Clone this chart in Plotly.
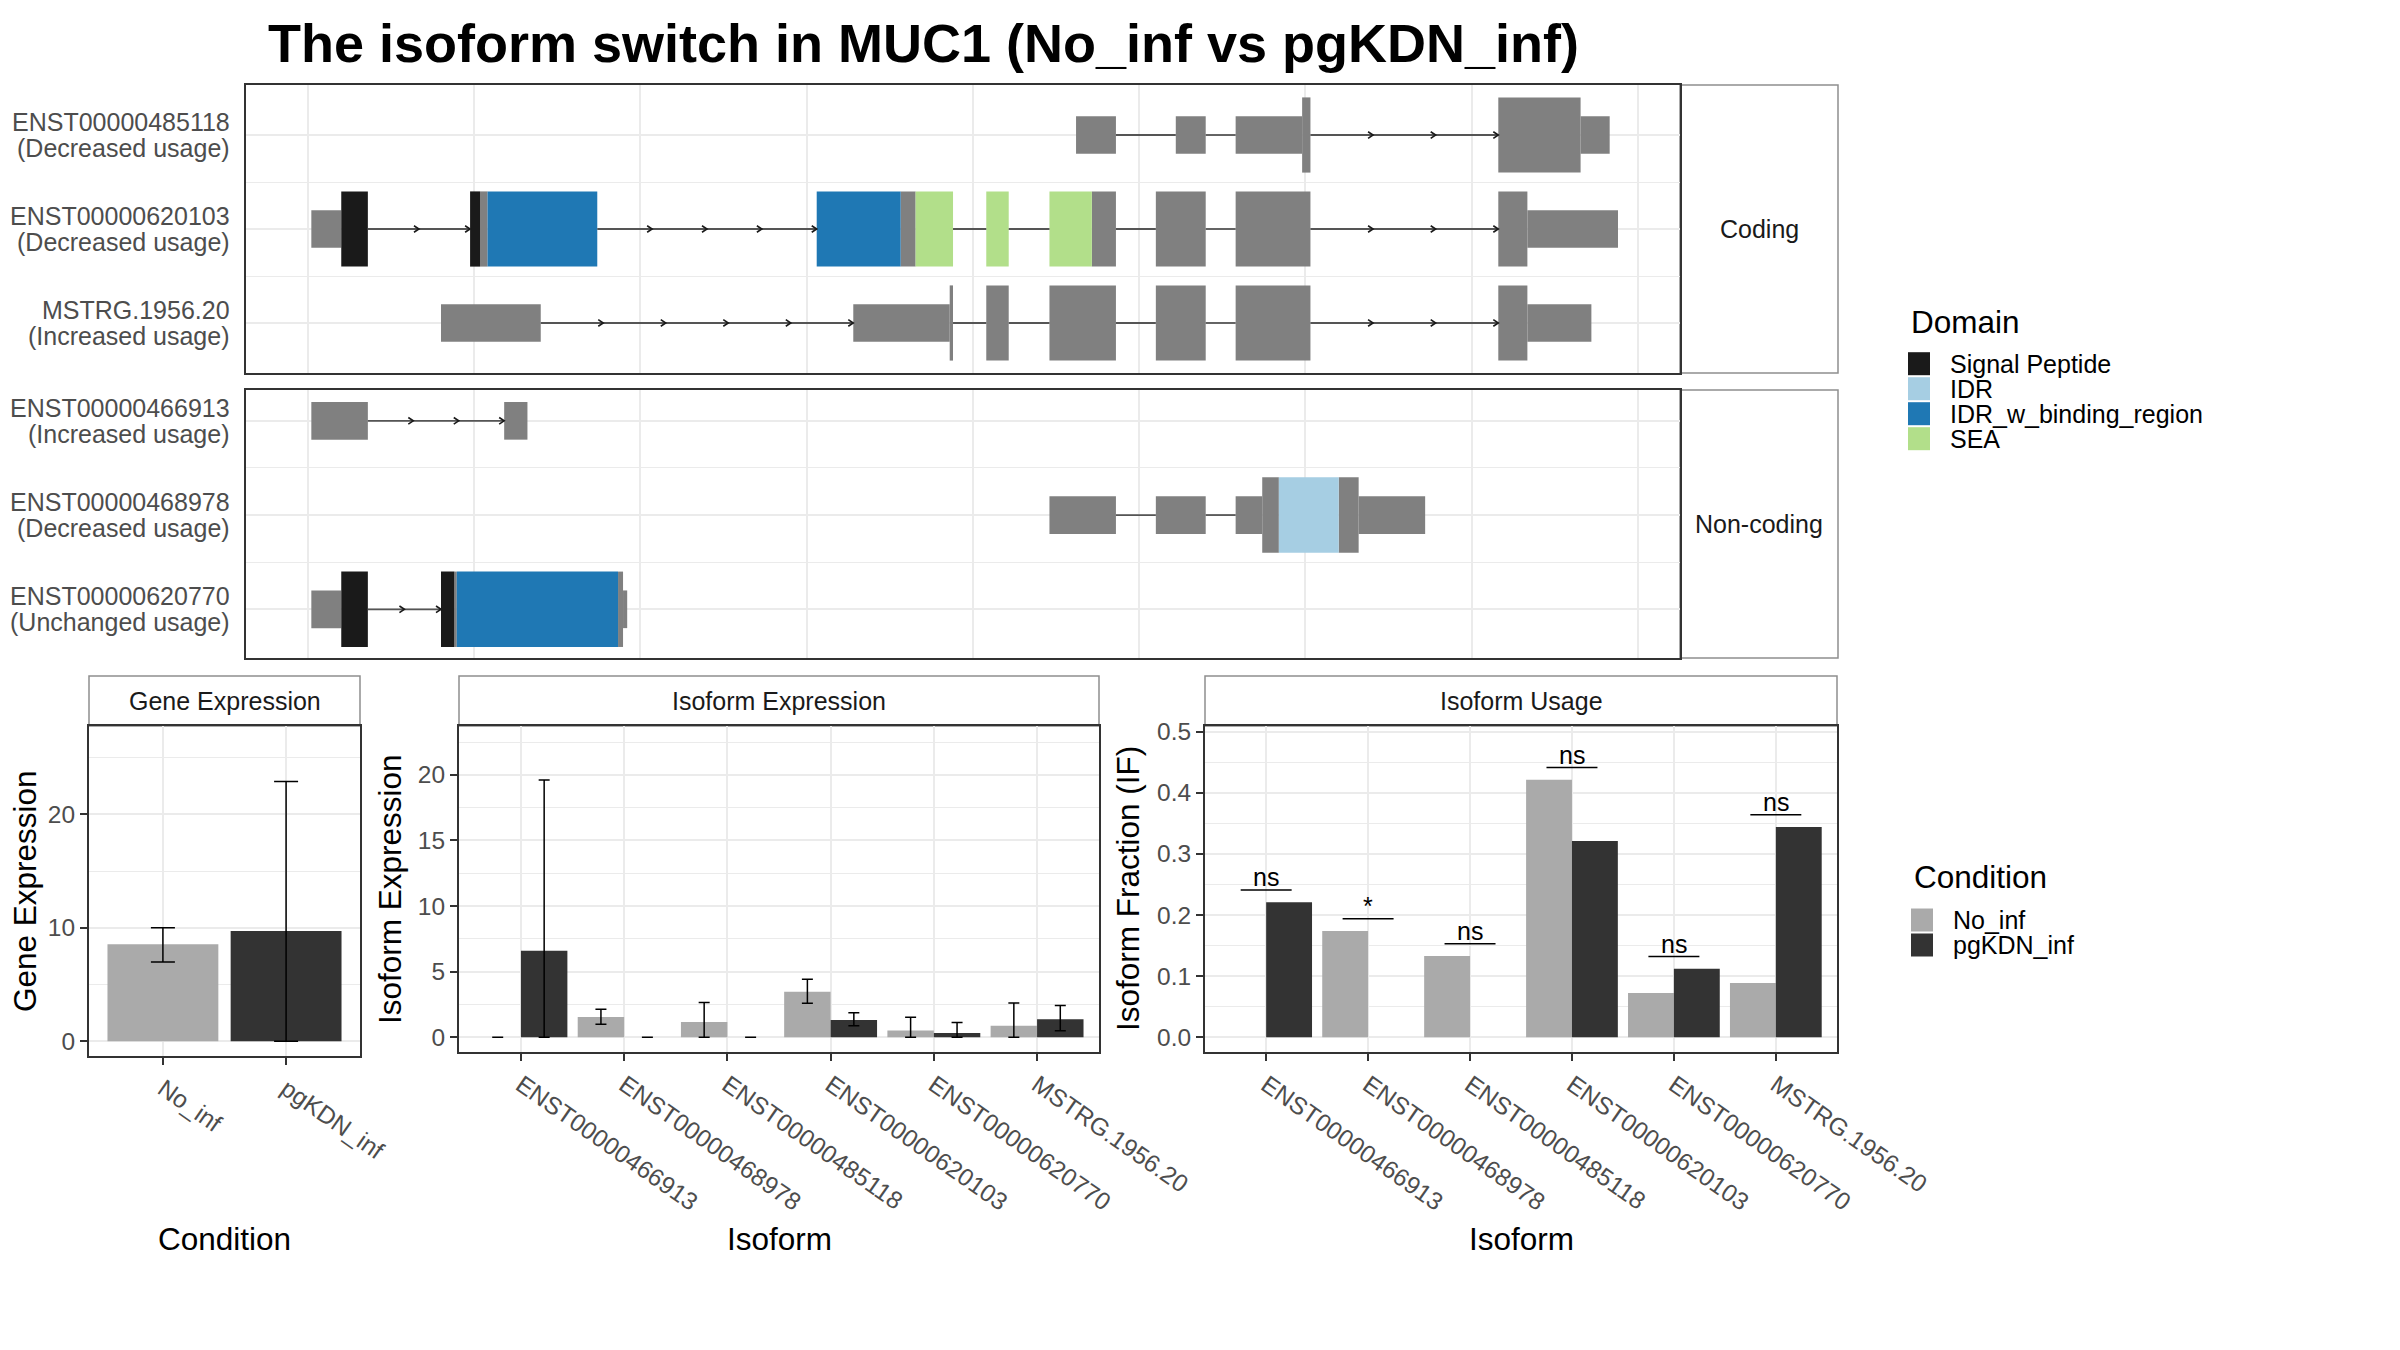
import plotly.graph_objects as go

W, H = 2400, 1350
OFF = 8  # page body margin of the rendered html

# ---------------------------------------------------------------- data
coding_ids = ["ENST00000485118", "ENST00000620103", "MSTRG.1956.20"]
coding_usage = ["(Decreased usage)", "(Decreased usage)", "(Increased usage)"]
noncoding_ids = ["ENST00000466913", "ENST00000468978", "ENST00000620770"]
noncoding_usage = ["(Increased usage)", "(Decreased usage)", "(Unchanged usage)"]

# exon segments (start, end, feature) in rescaled transcript coordinates
seg_485118 = [(462, 486, "UTR"), (522, 540, "UTR"), (558, 598, "UTR"), (598, 603, "CDS"),
              (716, 765.5, "CDS"), (765.5, 783, "UTR")]
seg_620103 = [(2, 20, "UTR"), (20, 36, "Signal Peptide"),
              (97.5, 103.5, "Signal Peptide"), (103.5, 108, "CDS"), (108, 174, "IDR_w_binding_region"),
              (306, 356.5, "IDR_w_binding_region"), (356.5, 365.5, "CDS"), (365.5, 388, "SEA"),
              (408, 421.5, "SEA"),
              (446, 471.5, "SEA"), (471.5, 486, "CDS"),
              (510, 540, "CDS"), (558, 603, "CDS"),
              (716, 733.5, "CDS"), (733.5, 788, "UTR")]
seg_MSTRG = [(80, 140, "UTR"), (328, 386, "UTR"), (386, 388, "CDS"), (408, 421.5, "CDS"),
             (446, 486, "CDS"), (510, 540, "CDS"), (558, 603, "CDS"),
             (716, 733.5, "CDS"), (733.5, 772, "UTR")]
seg_466913 = [(2, 36, "UTR"), (118, 132, "UTR")]
seg_468978 = [(446, 486, "UTR"), (510, 540, "UTR"), (558, 574, "UTR"), (574, 584, "CDS"),
              (584, 620, "IDR"), (620, 632, "CDS"), (632, 672, "UTR")]
seg_620770 = [(2, 20, "UTR"), (20, 36, "Signal Peptide"), (80, 88, "Signal Peptide"),
              (88, 89.5, "CDS"), (89.5, 186.5, "IDR_w_binding_region"), (186.5, 189.5, "CDS"),
              (189.5, 192, "UTR")]

# number of direction arrows drawn on each intron
arr_485118 = [0, 0, 3]
arr_620103 = [2, 4, 0, 0, 0, 0, 3]
arr_MSTRG = [5, 0, 0, 0, 0, 3]
arr_466913 = [3]
arr_468978 = [0, 0]
arr_620770 = [2]

coding_segs = [seg_485118, seg_620103, seg_MSTRG]
coding_arrows = [arr_485118, arr_620103, arr_MSTRG]
noncoding_segs = [seg_466913, seg_468978, seg_620770]
noncoding_arrows = [arr_466913, arr_468978, arr_620770]

domain_names = ["Signal Peptide", "IDR", "IDR_w_binding_region", "SEA"]
domain_colors = ["#1A1A1A", "#A6CEE3", "#1F78B4", "#B2DF8A"]
exon_grey = "#808080"

conditions = ["No_inf", "pgKDN_inf"]
condition_colors = ["#AAAAAA", "#333333"]

gene_expr = [8.55, 9.73]
gene_lo = [7.0, 0.0]
gene_hi = [10.0, 22.9]

isoforms = ["ENST00000466913", "ENST00000468978", "ENST00000485118",
            "ENST00000620103", "ENST00000620770", "MSTRG.1956.20"]
iso_no = [0.0, 1.55, 1.17, 3.47, 0.52, 0.88]
iso_no_lo = [0.0, 0.99, 0.0, 2.60, 0.0, 0.0]
iso_no_hi = [0.0, 2.13, 2.65, 4.43, 1.52, 2.62]
iso_pg = [6.60, 0.0, 0.0, 1.31, 0.32, 1.37]
iso_pg_lo = [0.0, 0.0, 0.0, 0.88, 0.0, 0.50]
iso_pg_hi = [19.6, 0.0, 0.0, 1.87, 1.13, 2.42]

if_no = [0.0, 0.174, 0.133, 0.421, 0.0725, 0.089]
if_pg = [0.221, 0.0, 0.0, 0.321, 0.112, 0.344]
sig_labels = ["ns", "*", "ns", "ns", "ns", "ns"]

# ---------------------------------------------------------------- style
FONT = "Liberation Sans, Arial, Helvetica, sans-serif"
GRID = "#EBEBEB"
BORDER = "#333333"
TXT_GREY = "#4D4D4D"


def px_x(p):
    return (p - OFF) / W


def px_y(p):
    return 1 - (p - OFF) / H


# panel boxes in pixels (left, right, top, bottom)
P_COD = (246, 1680, 85, 373)
P_NON = (246, 1680, 390, 658)
P_GENE = (89, 360, 726, 1056)
P_ISO = (459, 1099, 726, 1052)
P_USE = (1205, 1837, 726, 1052)
STRIP_RIGHT = 1838
STRIP_TOP = 676

fig = go.Figure()

feature_color = {"UTR": exon_grey, "CDS": exon_grey}
feature_color.update(dict(zip(domain_names, domain_colors)))


def add_transcripts(segs_list, arrows_list, xa, ya):
    feats = ["UTR", "CDS"] + domain_names
    for f in feats:
        ys, lens, bases, widths = [], [], [], []
        for r, segs in enumerate(segs_list):
            for (s, e, ft) in segs:
                if ft == f:
                    ys.append(r + 1)
                    lens.append(e - s)
                    bases.append(s)
                    widths.append(0.4 if f == "UTR" else 0.8)
        if ys:
            fig.add_trace(go.Bar(orientation="h", y=ys, x=lens, base=bases, width=widths,
                                 marker=dict(color=feature_color[f], line=dict(width=0)),
                                 xaxis=xa, yaxis=ya, showlegend=False, hoverinfo="skip"))
    lx, ly, cx, cy = [], [], [], []
    for r, (segs, arrs) in enumerate(zip(segs_list, arrows_list)):
        row = r + 1
        introns = [(segs[k][1], segs[k + 1][0]) for k in range(len(segs) - 1)
                   if segs[k][1] < segs[k + 1][0]]
        for (a, b), n in zip(introns, arrs):
            lx += [a, b, None]
            ly += [row, row, None]
            for m in range(1, n + 1):
                xm = a + m * (b - a) / n
                cx += [xm - 3, xm, xm - 3, None]
                cy += [row - 0.035, row, row + 0.035, None]
    fig.add_trace(go.Scatter(x=lx, y=ly, mode="lines", line=dict(color="#555555", width=1.8),
                             xaxis=xa, yaxis=ya, showlegend=False, hoverinfo="skip"))
    fig.add_trace(go.Scatter(x=cx, y=cy, mode="lines", line=dict(color="#1A1A1A", width=1.6),
                             xaxis=xa, yaxis=ya, showlegend=False, hoverinfo="skip"))


add_transcripts(coding_segs, coding_arrows, "x", "y")
add_transcripts(noncoding_segs, noncoding_arrows, "x2", "y2")

# ---------------- gene expression
fig.add_trace(go.Bar(x=list(range(len(conditions))), y=gene_expr, width=0.9,
                     marker=dict(color=condition_colors, line=dict(width=0)),
                     error_y=dict(type="data", symmetric=False,
                                  array=[h - v for h, v in zip(gene_hi, gene_expr)],
                                  arrayminus=[v - l for v, l in zip(gene_expr, gene_lo)],
                                  color="black", thickness=1.5, width=12),
                     xaxis="x3", yaxis="y3", showlegend=False, hoverinfo="skip"))

# ---------------- isoform expression
idx = list(range(len(isoforms)))
for vals, lo, hi, col, off in [(iso_no, iso_no_lo, iso_no_hi, condition_colors[0], -0.45),
                               (iso_pg, iso_pg_lo, iso_pg_hi, condition_colors[1], 0.0)]:
    fig.add_trace(go.Bar(x=idx, y=vals, width=0.45, offset=off,
                         marker=dict(color=col, line=dict(width=0)),
                         error_y=dict(type="data", symmetric=False,
                                      array=[h - v for h, v in zip(hi, vals)],
                                      arrayminus=[v - l for v, l in zip(vals, lo)],
                                      color="black", thickness=1.5, width=5.5),
                         xaxis="x4", yaxis="y4", showlegend=False, hoverinfo="skip"))

# ---------------- isoform usage
for vals, col, off in [(if_no, condition_colors[0], -0.45), (if_pg, condition_colors[1], 0.0)]:
    fig.add_trace(go.Bar(x=idx, y=vals, width=0.45, offset=off,
                         marker=dict(color=col, line=dict(width=0)),
                         xaxis="x5", yaxis="y5", showlegend=False, hoverinfo="skip"))

sig_y = [max(a, b) + 0.02 for a, b in zip(if_no, if_pg)]
sx, sy = [], []
for i, yv in zip(idx, sig_y):
    sx += [i - 0.25, i + 0.25, None]
    sy += [yv, yv, None]
fig.add_trace(go.Scatter(x=sx, y=sy, mode="lines", line=dict(color="black", width=1.5),
                         xaxis="x5", yaxis="y5", showlegend=False, hoverinfo="skip"))

annotations = []
for i, yv, lab in zip(idx, sig_y, sig_labels):
    annotations.append(dict(x=i, y=yv, xref="x5", yref="y5", text=lab, showarrow=False,
                            yanchor="bottom", xanchor="center", yshift=-3,
                            font=dict(size=25, color="black", family=FONT)))

# ---------------------------------------------------------------- axes
def dom_x(p):
    return [px_x(p[0]), px_x(p[1])]


def dom_y(p):
    return [px_y(p[3]), px_y(p[2])]


line_style = dict(showline=True, mirror=True, linecolor=BORDER, linewidth=2, zeroline=False,
                  automargin=False)

tx_x = dict(range=[-37.3, 825.3], tick0=0, dtick=100, showticklabels=False, ticks="",
            showgrid=True, gridcolor=GRID, gridwidth=2, **line_style)
tx_yminor = dict(tickmode="array", tickvals=[1.5, 2.5], showgrid=True, gridcolor=GRID,
                 gridwidth=1.4, ticks="")

bar_x = dict(tickangle=35, ticks="outside", ticklen=7, tickwidth=2, tickcolor=BORDER,
             showgrid=True, gridcolor=GRID, gridwidth=2.4,
             tickfont=dict(size=24.5, color=TXT_GREY, family=FONT), **line_style)
bar_y = dict(ticks="outside", ticklen=7, tickwidth=2, tickcolor=BORDER,
             showgrid=True, gridcolor=GRID, gridwidth=2.4,
             tickfont=dict(size=24.5, color=TXT_GREY, family=FONT), **line_style)

fig.update_layout(
    xaxis=dict(domain=dom_x(P_COD), anchor="y", **tx_x),
    yaxis=dict(domain=dom_y(P_COD), anchor="x", range=[3.532, 0.468], tickvals=[1, 2, 3],
               showticklabels=False, ticks="", showgrid=True, gridcolor=GRID, gridwidth=2.4,
               minor=tx_yminor, **line_style),
    xaxis2=dict(domain=dom_x(P_NON), anchor="y2", **tx_x),
    yaxis2=dict(domain=dom_y(P_NON), anchor="x2", range=[3.517, 0.673], tickvals=[1, 2, 3],
                showticklabels=False, ticks="", showgrid=True, gridcolor=GRID, gridwidth=2.4,
                minor=tx_yminor, **line_style),
    xaxis3=dict(domain=dom_x(P_GENE), anchor="y3", range=[-0.6, 1.6],
                tickvals=list(range(len(conditions))), ticktext=conditions, **bar_x),
    yaxis3=dict(domain=dom_y(P_GENE), anchor="x3", range=[-1.3, 27.8], tick0=0, dtick=10,
                minor=dict(tick0=0, dtick=5, showgrid=True, gridcolor=GRID, gridwidth=1.4, ticks=""),
                **bar_y),
    xaxis4=dict(domain=dom_x(P_ISO), anchor="y4", range=[-0.6, 5.6],
                tickvals=idx, ticktext=isoforms, **bar_x),
    yaxis4=dict(domain=dom_y(P_ISO), anchor="x4", range=[-1.12, 23.72], tick0=0, dtick=5,
                minor=dict(tick0=0, dtick=2.5, showgrid=True, gridcolor=GRID, gridwidth=1.4, ticks=""),
                **bar_y),
    xaxis5=dict(domain=dom_x(P_USE), anchor="y5", range=[-0.6, 5.6],
                tickvals=idx, ticktext=isoforms, **bar_x),
    yaxis5=dict(domain=dom_y(P_USE), anchor="x5", range=[-0.024, 0.509], tick0=0, dtick=0.1,
                tickformat=".1f",
                minor=dict(tick0=0, dtick=0.05, showgrid=True, gridcolor=GRID, gridwidth=1.4, ticks=""),
                **bar_y),
)

# ---------------------------------------------------------------- strips
shapes = []
STRIP_LINE = dict(color="#8F8F8F", width=1.5)


def paper_text(text, x, y, size, color, xanchor="center", angle=0):
    annotations.append(dict(x=px_x(x), y=px_y(y), xref="paper", yref="paper", text=text,
                            showarrow=False, xanchor=xanchor, yanchor="middle", textangle=angle,
                            font=dict(size=size, color=color, family=FONT)))


for p, lab in [(P_COD, "Coding"), (P_NON, "Non-coding")]:
    shapes.append(dict(type="rect", xref="paper", yref="paper", x0=px_x(p[1]), x1=px_x(STRIP_RIGHT),
                       y0=px_y(p[3]), y1=px_y(p[2]), line=STRIP_LINE, fillcolor="white", layer="below"))
    paper_text(lab, (p[1] + STRIP_RIGHT) / 2, (p[2] + p[3]) / 2, 25, "#1A1A1A")
for p, lab in [(P_GENE, "Gene Expression"), (P_ISO, "Isoform Expression"), (P_USE, "Isoform Usage")]:
    shapes.append(dict(type="rect", xref="paper", yref="paper", x0=px_x(p[0]), x1=px_x(p[1]),
                       y0=px_y(p[2]), y1=px_y(STRIP_TOP), line=STRIP_LINE, fillcolor="white",
                       layer="below"))
    paper_text(lab, (p[0] + p[1]) / 2, (STRIP_TOP + p[2]) / 2, 25, "#1A1A1A")

# ---------------------------------------------------------------- transcript labels
for ids, usage, ya in [(coding_ids, coding_usage, "y"), (noncoding_ids, noncoding_usage, "y2")]:
    for r, (tid, us) in enumerate(zip(ids, usage)):
        for txt, shift in [(tid, 13), (us, -13)]:
            annotations.append(dict(x=px_x(232), y=r + 1, xref="paper", yref=ya, text=txt,
                                    showarrow=False, xanchor="right", yanchor="middle", yshift=shift,
                                    font=dict(size=25, color=TXT_GREY, family=FONT)))

# ---------------------------------------------------------------- axis titles
for txt, x, y in [("Gene Expression", 25, (P_GENE[2] + P_GENE[3]) / 2),
                  ("Isoform Expression", 390, (P_ISO[2] + P_ISO[3]) / 2),
                  ("Isoform Fraction (IF)", 1128, (P_USE[2] + P_USE[3]) / 2)]:
    paper_text(txt, x, y, 31.5, "black", angle=-90)
for txt, p in [("Condition", P_GENE), ("Isoform", P_ISO), ("Isoform", P_USE)]:
    paper_text(txt, (p[0] + p[1]) / 2, 1239, 31.5, "black")


# ---------------------------------------------------------------- legends
def add_legend(title, names, colors, tx, ty, key_x, first_y, text_x):
    paper_text(title, tx, ty, 31.5, "black", xanchor="left")
    for i, (n, c) in enumerate(zip(names, colors)):
        yc = first_y + 25 * i
        shapes.append(dict(type="rect", xref="paper", yref="paper", x0=px_x(key_x),
                           x1=px_x(key_x + 22), y0=px_y(yc + 11.5), y1=px_y(yc - 11.5),
                           fillcolor=c, line=dict(width=0)))
        paper_text(n, text_x, yc, 25, "black", xanchor="left")


add_legend("Domain", domain_names, domain_colors, 1909, 322, 1908, 363.7, 1948)
add_legend("Condition", conditions, condition_colors, 1912, 877, 1911, 920, 1951)

fig.update_layout(
    width=W, height=H, autosize=False,
    margin=dict(l=0, r=0, t=0, b=0, autoexpand=False),
    paper_bgcolor="white", plot_bgcolor="white",
    barmode="overlay", showlegend=False,
    font=dict(family=FONT, color="black"),
    title=dict(text="<b>The isoform switch in MUC1 (No_inf vs pgKDN_inf)</b>",
               x=px_x(268), xanchor="left", xref="paper", y=px_y(43), yanchor="middle", yref="paper",
               font=dict(size=54, color="black", family=FONT)),
    shapes=shapes, annotations=annotations,
)

fig.write_html("out.html")
